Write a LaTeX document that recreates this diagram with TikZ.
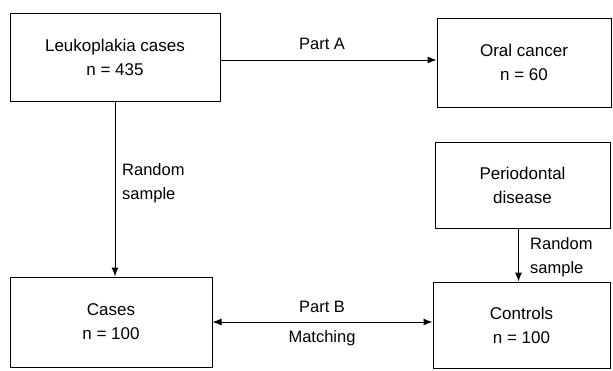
\documentclass[tikz,border=0pt]{standalone}
\usepackage{fontspec}
\setmainfont{Liberation Sans}
\usetikzlibrary{arrows.meta}
\begin{document}
\begin{tikzpicture}[x=1pt,y=-1pt,
  box/.style={draw, line width=1pt, inner sep=0pt, align=center,
    font=\fontsize{17}{24}\selectfont},
  lbl/.style={inner sep=0pt, align=left, font=\fontsize{16.5}{24}\selectfont},
  arr/.style={line width=1pt, -{Latex[length=9pt,width=7pt]}},
  darr/.style={line width=1pt, {Latex[length=9pt,width=7pt]}-{Latex[length=9pt,width=7pt]}}]
\useasboundingbox (0,0) rectangle (613,370);
\node[box, minimum width=210pt, minimum height=88pt] (L) at (115,57) {Leukoplakia cases\\n = 435};
\node[box, minimum width=174pt, minimum height=89pt] (O) at (524,62.5) {Oral cancer\\n = 60};
\node[box, minimum width=175pt, minimum height=86pt] (P) at (522.5,185) {Periodontal\\disease};
\node[box, minimum width=202pt, minimum height=90pt] (Cs) at (111,322) {Cases\\n = 100};
\node[box, minimum width=177pt, minimum height=86pt] (Ct) at (521.5,325) {Controls\\n = 100};
\draw[arr] ([yshift=-3pt]L.east) -- ([yshift=-3pt]L.east -| O.west);
\draw[arr] (L.south) -- (L.south |- Cs.north);
\draw[arr] ([xshift=-4pt]P.south) -- ([xshift=-4pt]P.south |- Ct.north);
\draw[darr] (Cs.east) -- (Cs.east -| Ct.west);
\node[lbl] (pa) at (322,44) {Part A};
\node[lbl] (pb) at (322,307) {Part B};
\node[lbl] (ma) at (322,338) {Matching};
\node[lbl, anchor=west] (r1) at (122,183) {Random\\sample};
\node[lbl, anchor=west] (r2) at (530,257) {Random\\sample};
\end{tikzpicture}
\end{document}
